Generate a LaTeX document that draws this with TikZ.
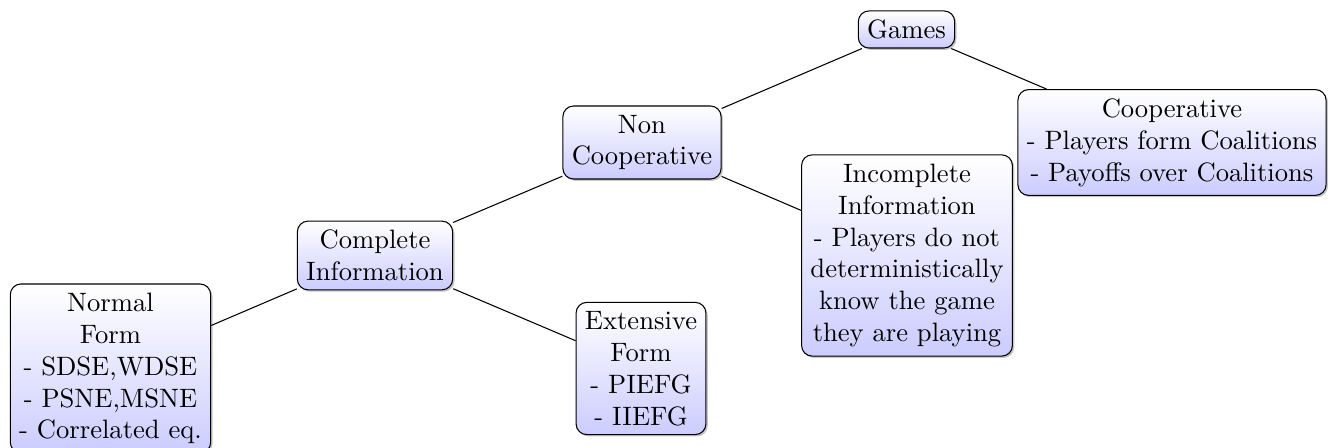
\documentclass[tikz,border=0pt]{standalone}
\usetikzlibrary{shadows}
\begin{document}
\begin{tikzpicture}[x=0.37594pt,y=-0.37594pt,
  box/.style={draw, rounded corners=4pt, top color=white, bottom color=blue!20,
    drop shadow={opacity=0.45, shadow xshift=0.7pt, shadow yshift=-0.7pt},
    align=center, inner sep=3.333pt},
  link/.style={draw, line width=0.4pt}]
\useasboundingbox (0,0) rectangle (1334,448);
\node[box] (games) at (906.5,29.5) {Games};
\node[box] (noncoop) at (642,142.5) {Non\\Cooperative};
\node[box] (coop) at (1172,142.5) {Cooperative\\- Players form Coalitions\\- Payoffs over Coalitions};
\node[box] (complete) at (375,255.5) {Complete\\Information};
\node[box] (incomplete) at (907,255.5) {Incomplete\\Information\\- Players do not\\deterministically\\know the game\\they are playing};
\node[box] (normal) at (110.5,368.5) {Normal\\Form\\- SDSE,WDSE\\- PSNE,MSNE\\- Correlated eq.};
\node[box] (extensive) at (641,368.5) {Extensive\\Form\\- PIEFG\\- IIEFG};
\draw[link] (games) -- (noncoop);
\draw[link] (games) -- (coop);
\draw[link] (noncoop) -- (complete);
\draw[link] (noncoop) -- (incomplete);
\draw[link] (complete) -- (normal);
\draw[link] (complete) -- (extensive);
\end{tikzpicture}
\end{document}
